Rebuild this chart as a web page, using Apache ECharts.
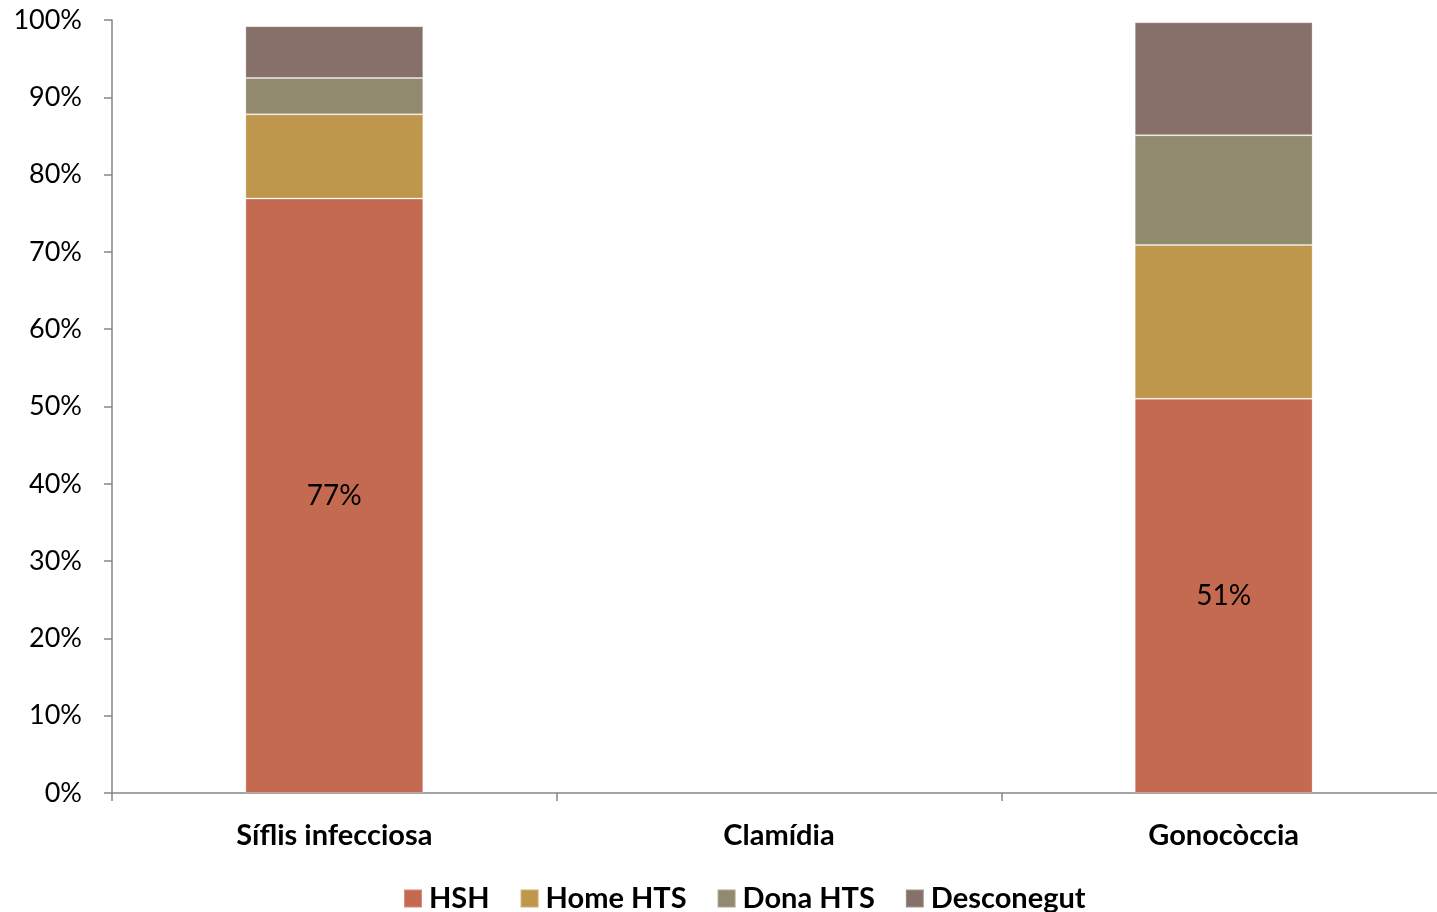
<!DOCTYPE html>
<html><head><meta charset="utf-8">
<script src="https://cdn.jsdelivr.net/npm/echarts@6/dist/echarts.min.js"></script>
<style>html,body{margin:0;padding:0;background:#fff}#c{width:1437px;height:912px}</style>
</head><body><div id="c"></div>
<script>
const categories = ['Síflis infecciosa', 'Clamídia', 'Gonocòccia'];
const seriesNames = ['HSH', 'Home HTS', 'Dona HTS', 'Desconegut'];
const hsh = [76.9, null, 51.0];
const homeHTS = [10.9, null, 19.9];
const donaHTS = [4.7, null, 14.2];
const desconegut = [6.7, null, 14.6];
const colors = ['#C46A50', '#BF974C', '#928A6E', '#877069'];
const yTicks = [0, 10, 20, 30, 40, 50, 60, 70, 80, 90, 100];

const font = 'Lato, "Open Sans", sans-serif';
const values = [hsh, homeHTS, donaHTS, desconegut];
const chart = echarts.init(document.getElementById('c'));
chart.setOption({
  animation: false,
  textStyle: { fontFamily: font },
  grid: { left: 112, width: 1334, top: 20, height: 773, containLabel: false, outerBoundsMode: 'none' },
  legend: {
    top: 879, left: 398,
    itemWidth: 18, itemHeight: 18, itemGap: 30,
    icon: 'rect',
    textStyle: { fontSize: 29, fontWeight: 'bold', color: '#000', fontFamily: font, padding: [0, 0, 0, 2] },
    data: seriesNames
  },
  xAxis: {
    type: 'category', data: categories,
    axisLine: { lineStyle: { color: '#868686', width: 1.5 } },
    axisTick: { show: true, length: 8, alignWithLabel: false, lineStyle: { color: '#868686', width: 1.5 } },
    axisLabel: { fontSize: 29, fontWeight: 'bold', color: '#000', margin: 28, fontFamily: font }
  },
  yAxis: {
    type: 'value', min: 0, max: 100, interval: 10,
    axisLine: { show: true, lineStyle: { color: '#868686', width: 1.5 } },
    axisTick: { show: true, length: 8, inside: false, lineStyle: { color: '#868686', width: 1.5 } },
    splitLine: { show: false },
    axisLabel: { fontSize: 27, color: '#000', margin: 30, fontFamily: font,
      formatter: v => yTicks.includes(v) ? v + '%' : '' }
  },
  series: values.map((d, i) => ({
    name: seriesNames[i], type: 'bar', stack: 'total', data: d,
    barWidth: '40%',
    itemStyle: { color: colors[i], borderColor: 'rgba(255,255,255,0.25)', borderWidth: 1 },
    label: i === 0 ? { show: true, position: 'inside', fontSize: 28, color: '#000', fontFamily: font,
      formatter: p => Math.round(p.value) + '%' } : { show: false }
  }))
});
</script></body></html>
